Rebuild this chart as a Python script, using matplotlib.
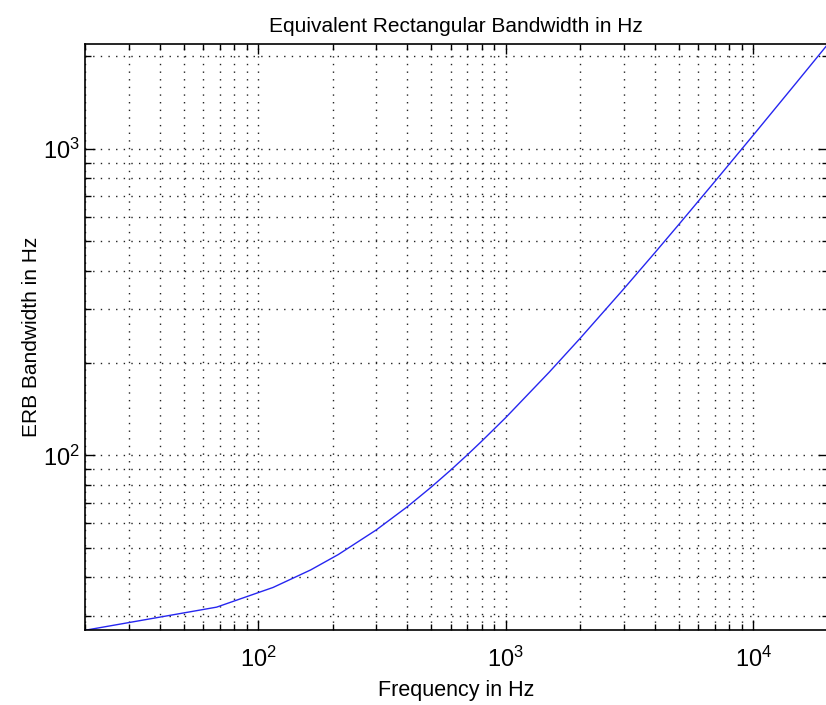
import matplotlib.pyplot as plt
from matplotlib.ticker import LogLocator, NullFormatter

# Points (Hz)
freq = [20, 68, 115, 163, 211, 300, 400, 500, 600, 700, 800, 1000, 1500, 2000, 3000,
        4000, 5000, 7000, 10000, 15000, 20000]
erb = [26.9, 32.0, 37.1, 42.3, 47.5, 57.1, 67.9, 78.7, 89.5, 100.3, 111.1, 132.6, 186.6,
       240.6, 348.6, 456.5, 564.4, 780.3, 1104, 1644, 2184]

plt.rcParams['font.family'] = ['Liberation Sans', 'DejaVu Sans']
plt.rcParams['mathtext.fontset'] = 'custom'
plt.rcParams['mathtext.rm'] = 'Liberation Sans'
plt.rcParams['mathtext.it'] = 'Liberation Sans:italic'
plt.rcParams['mathtext.bf'] = 'Liberation Sans:bold'

fig = plt.figure(figsize=(8.26, 7.05), dpi=100)
ax = fig.add_axes([0.103, 0.106, 0.899, 0.831])

ax.loglog(freq, erb, color='#2626f0', linewidth=1.0)
ax.set_xlim(min(freq), max(freq))
ax.set_ylim(min(erb), max(erb))

ax.xaxis.set_major_locator(LogLocator(base=10))
ax.yaxis.set_major_locator(LogLocator(base=10))
ax.xaxis.set_minor_locator(LogLocator(base=10, subs=range(2, 10)))
ax.yaxis.set_minor_locator(LogLocator(base=10, subs=range(2, 10)))
ax.xaxis.set_minor_formatter(NullFormatter())
ax.yaxis.set_minor_formatter(NullFormatter())

ax.grid(True, which='both', linestyle=(0, (1, 4.5)), color='#222222', linewidth=1.0)
ax.tick_params(which='both', direction='in', top=True, right=True, labelsize=17)
ax.tick_params(axis='x', which='major', pad=12)
ax.tick_params(axis='y', which='major', pad=4)
ax.tick_params(which='major', length=7, width=1)
ax.tick_params(which='minor', length=4, width=1)
for s in ax.spines.values():
    s.set_linewidth(1.2)

ax.set_title('Equivalent Rectangular Bandwidth in Hz', fontsize=15, pad=9)
ax.set_xlabel('Frequency in Hz', fontsize=15.5, labelpad=6)
ax.set_ylabel('ERB Bandwidth in Hz', fontsize=15, labelpad=1)

fig.savefig('out.png', dpi=100)
